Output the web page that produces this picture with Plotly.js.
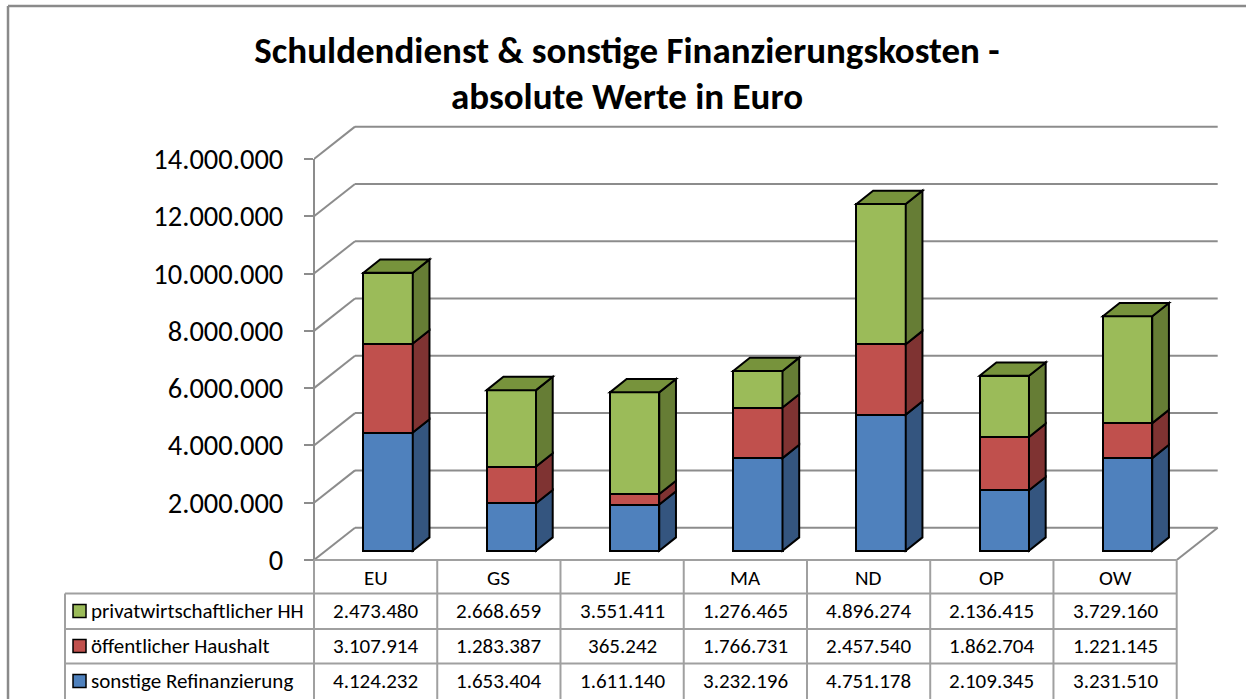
<!DOCTYPE html>
<html><head><meta charset="utf-8">
<script src="https://cdn.plot.ly/plotly-3.0.1.min.js"></script>
<style>html,body{margin:0;padding:0;background:#fff;}#chart{width:1246px;height:699px;}</style>
</head><body><div id="chart"></div>
<script>
// ---------------- data ----------------
const categories = ['EU', 'GS', 'JE', 'MA', 'ND', 'OP', 'OW'];
const privatwirtschaftlich = [2473480, 2668659, 3551411, 1276465, 4896274, 2136415, 3729160];
const oeffentlich = [3107914, 1283387, 365242, 1766731, 2457540, 1862704, 1221145];
const sonstige = [4124232, 1653404, 1611140, 3232196, 4751178, 2109345, 3231510];
const seriesNames = ['privatwirtschaftlicher HH', 'öffentlicher Haushalt', 'sonstige Refinanzierung'];
const yTickVals = [0, 2000000, 4000000, 6000000, 8000000, 10000000, 12000000, 14000000];
const titleLine1 = 'Schuldendienst & sonstige Finanzierungskosten -';
const titleLine2 = 'absolute Werte in Euro';

// ---------------- geometry / style ----------------
const FONT = 'Carlito, Calibri, Lato, sans-serif';
const W = 1246, H = 699;
const X0 = 314, Y0 = 560, COLW = 123.25, K = 28.64 / 1e6;
const nCat = categories.length;
const XFIRST = -0.5, XLAST = nCat - 0.5;
const XR = [XFIRST, XLAST + 0.4], YR = [0, 15.5e6];
const plotW = (XR[1] - XR[0]) * COLW, plotH = (YR[1] - YR[0]) * K;
const mL = X0, mB = H - Y0, mR = W - X0 - plotW, mT = Y0 - plotH;
const paperX = p => (p - mL) / plotW;
const paperY = p => (Y0 - p) / plotH;
const pxOfX = v => X0 + (v - XFIRST) * COLW;
const pxOfY = v => Y0 - v * K;

const WDX = 41 / COLW, WDY = 32.3 / K;      // wall depth
const SX = 12.5 / COLW, OFF = 9.3 / K;       // bar front plane shift
const BW = 0.4, BDX = 16.7 / COLW, BDY = 13.3 / K; // bar width / depth

const frontColors = ['#4F81BD', '#C0504D', '#9BBB59'];  // sonstige, öffentlich, privat
const sideColors = ['#34557F', '#7F3332', '#667D35'];
const topColor = '#77933C';
const gridLine = {color: '#8c8c8c', width: 2};
const tableLine = {color: '#a0a0a0', width: 2};
const TITLE_SIZE = 37, TICK_SIZE = 28.5, TABLE_SIZE = 21;

const fmt = v => String(v).replace(/\B(?=(\d{3})+(?!\d))/g, '.');

// ---------------- traces ----------------
const stacks = [sonstige, oeffentlich, privatwirtschaftlich];
const stackNames = [seriesNames[2], seriesNames[1], seriesNames[0]];
const idx = categories.map((c, i) => i);
const traces = stacks.map((arr, s) => ({
  type: 'bar', x: idx, y: arr, name: stackNames[s], xaxis: 'x2', yaxis: 'y2',
  width: BW, marker: {color: frontColors[s], line: {color: '#000', width: 2}},
  text: categories, hoverinfo: 'text+y+name', textposition: 'none', showlegend: false
}));

// ---------------- shapes ----------------
const shapes = [];
// walls / gridlines
yTickVals.forEach(v => {
  shapes.push({type: 'line', xref: 'x', yref: 'y', x0: XFIRST, y0: v, x1: XFIRST + WDX, y1: v + WDY, line: gridLine, layer: 'below'});
  shapes.push({type: 'line', xref: 'x', yref: 'y', x0: XFIRST + WDX, y0: v + WDY, x1: XLAST + WDX, y1: v + WDY, line: gridLine, layer: 'below'});
});
shapes.push({type: 'line', xref: 'x', yref: 'y', x0: XLAST, y0: 0, x1: XLAST + WDX, y1: WDY, line: gridLine, layer: 'below'});
// front value axis line
shapes.push({type: 'line', xref: 'paper', yref: 'paper', x0: paperX(X0), x1: paperX(X0), y0: 0, y1: paperY(pxOfY(yTickVals[yTickVals.length - 1])), line: gridLine});

// bar side and top faces
categories.forEach((c, i) => {
  let base = 0;
  stacks.forEach((arr, s) => {
    const b0 = base, b1 = base + arr[i];
    base = b1;
    const xr = i + BW / 2;
    shapes.push({type: 'path', xref: 'x2', yref: 'y2',
      path: `M${xr},${b0} L${xr + BDX},${b0 + BDY} L${xr + BDX},${b1 + BDY} L${xr},${b1} Z`,
      fillcolor: sideColors[s], line: {color: '#000', width: 2}, layer: 'above'});
  });
  const xl = i - BW / 2, xr = i + BW / 2;
  shapes.push({type: 'path', xref: 'x2', yref: 'y2',
    path: `M${xl},${base} L${xl + BDX},${base + BDY} L${xr + BDX},${base + BDY} L${xr},${base} Z`,
    fillcolor: topColor, line: {color: '#000', width: 2}, layer: 'above'});
});

// data table grid
const tableLeft = 65;
const rowLines = [593.5, 629, 663.5];
const rowCenters = [611, 646, 681];
const headerCenter = 578;
const tableRight = pxOfX(XLAST);
shapes.push({type: 'line', xref: 'paper', yref: 'paper', x0: paperX(X0), x1: paperX(tableRight), y0: paperY(Y0), y1: paperY(Y0), line: tableLine});
rowLines.forEach(r => shapes.push({type: 'line', xref: 'paper', yref: 'paper', x0: paperX(tableLeft), x1: paperX(tableRight), y0: paperY(r), y1: paperY(r), line: tableLine}));
shapes.push({type: 'line', xref: 'paper', yref: 'paper', x0: paperX(tableLeft), x1: paperX(tableLeft), y0: paperY(rowLines[0]), y1: paperY(H + 2), line: tableLine});
for (let b = 0; b <= nCat; b++) {
  const xp = paperX(pxOfX(XFIRST + b));
  shapes.push({type: 'line', xref: 'paper', yref: 'paper', x0: xp, x1: xp, y0: paperY(Y0), y1: paperY(H + 2), line: tableLine});
}
// legend swatches in table
const tableRows = [privatwirtschaftlich, oeffentlich, sonstige];
const swatchColors = [frontColors[2], frontColors[1], frontColors[0]];
rowCenters.forEach((cy, r) => {
  shapes.push({type: 'rect', xref: 'paper', yref: 'paper', x0: paperX(73), x1: paperX(86), y0: paperY(cy + 6.5), y1: paperY(cy - 6.5),
    fillcolor: swatchColors[r], line: {color: '#000', width: 1.5}});
});
// chart border
shapes.push({type: 'line', xref: 'paper', yref: 'paper', x0: paperX(8), x1: paperX(W + 2), y0: paperY(6), y1: paperY(6), line: {color: '#8a8a8a', width: 2.5}});
shapes.push({type: 'line', xref: 'paper', yref: 'paper', x0: paperX(8), x1: paperX(8), y0: paperY(6), y1: paperY(H + 2), line: {color: '#8a8a8a', width: 2.5}});

// ---------------- annotations ----------------
const annotations = [];
annotations.push({xref: 'paper', yref: 'paper', x: paperX(627), y: paperY(97), xanchor: 'center', yanchor: 'middle',
  text: titleLine2, showarrow: false, font: {family: FONT, size: TITLE_SIZE, color: '#000', weight: 'bold'}});
categories.forEach((c, i) => annotations.push({xref: 'x', yref: 'paper', x: i, y: paperY(headerCenter), xanchor: 'center', yanchor: 'middle',
  text: c, showarrow: false, font: {family: FONT, size: TABLE_SIZE, color: '#000'}}));
tableRows.forEach((arr, r) => {
  annotations.push({xref: 'paper', yref: 'paper', x: paperX(89), y: paperY(rowCenters[r]), xanchor: 'left', yanchor: 'middle',
    text: seriesNames[r], showarrow: false, font: {family: FONT, size: TABLE_SIZE, color: '#000'}});
  arr.forEach((v, i) => annotations.push({xref: 'x', yref: 'paper', x: i, y: paperY(rowCenters[r]), xanchor: 'center', yanchor: 'middle',
    text: fmt(v), showarrow: false, font: {family: FONT, size: TABLE_SIZE, color: '#000'}}));
});

// ---------------- layout ----------------
const layout = {
  width: W, height: H,
  margin: {l: mL, r: mR, t: mT, b: mB, pad: 0},
  paper_bgcolor: '#fff', plot_bgcolor: 'rgba(0,0,0,0)',
  separators: ',.',
  font: {family: FONT, color: '#000'},
  title: {text: titleLine1, x: 627 / W, xanchor: 'center', xref: 'container', y: 1 - 50 / H, yanchor: 'middle', yref: 'container',
    font: {family: FONT, size: TITLE_SIZE, color: '#000', weight: 'bold'}},
  barmode: 'stack',
  xaxis: {range: XR, showgrid: false, zeroline: false, showticklabels: false, ticks: '', showline: false, fixedrange: true},
  yaxis: {range: YR, showgrid: false, zeroline: false, showline: false, tickvals: yTickVals, tickformat: ',d',
    ticks: 'outside', ticklen: 9, tickwidth: 2, tickcolor: '#8c8c8c', ticklabelstandoff: 15,
    tickfont: {family: FONT, size: TICK_SIZE, color: '#000'}, fixedrange: true},
  xaxis2: {overlaying: 'x', range: [XR[0] - SX, XR[1] - SX], visible: false, fixedrange: true},
  yaxis2: {overlaying: 'y', range: [YR[0] - OFF, YR[1] - OFF], visible: false, fixedrange: true},
  shapes: shapes,
  annotations: annotations,
  showlegend: false
};

Plotly.newPlot('chart', traces, layout, {displayModeBar: false, responsive: false});
</script>
</body></html>
